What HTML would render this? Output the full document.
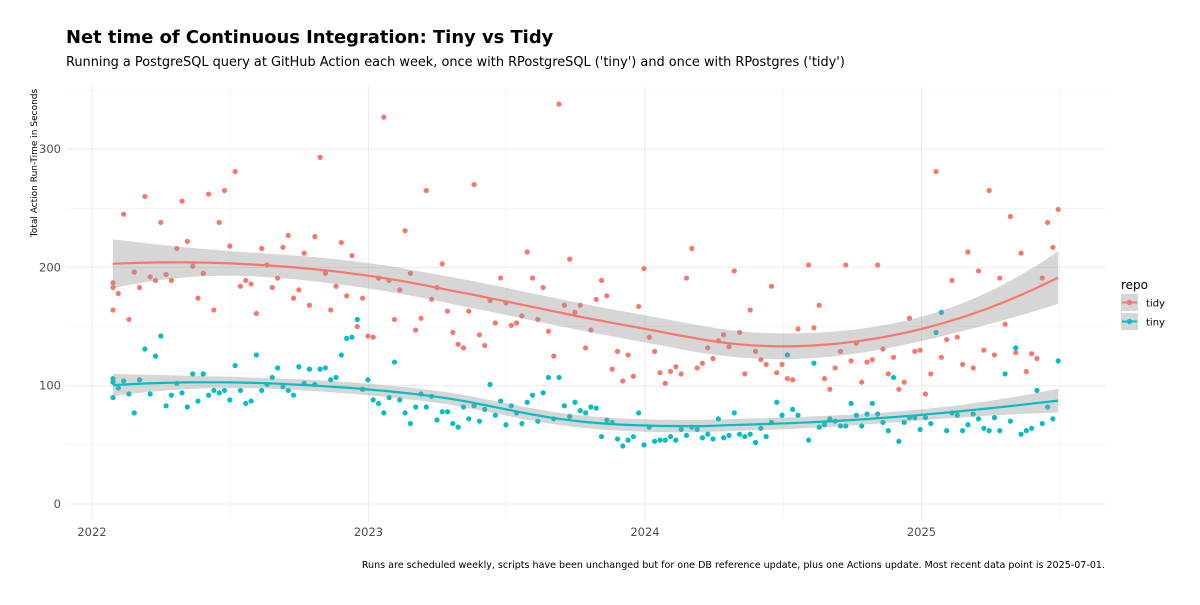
<!DOCTYPE html>
<html><head><meta charset="utf-8">
<style>
body{margin:0;background:#fff;}
svg text{font-family:"DejaVu Sans","Liberation Sans",sans-serif;}
</style></head>
<body>
<svg id="chart" width="1200" height="600" viewBox="0 0 1200 600" xmlns="http://www.w3.org/2000/svg">
<rect width="1200" height="600" fill="#fff"/>
<text x="66" y="43" font-size="17.9" font-weight="bold" fill="#000">Net time of Continuous Integration: Tiny vs Tidy</text>
<text x="66" y="66" font-size="12.9" fill="#000">Running a PostgreSQL query at GitHub Action each week, once with RPostgreSQL ('tiny') and once with RPostgres ('tidy')</text>
<g id="grid"></g>
<g id="points"></g>
<g id="smooth"></g>
<g id="axes"></g>
<text transform="translate(37,163) rotate(-90)" text-anchor="middle" font-size="9" fill="#000">Total Action Run-Time in Seconds</text>
<text x="1105" y="568" text-anchor="end" font-size="9.55" fill="#000">Runs are scheduled weekly, scripts have been unchanged but for one DB reference update, plus one Actions update. Most recent data point is 2025-07-01.</text>
<g id="legend">
<text x="1121" y="289" font-size="12" fill="#000">repo</text>
</g>
</svg>
<script>
const startYear = 2022.076;
const tidyValues = [187,178,245,156,196,183,260,192,189,238,194,189,216,256,222,201,174,195,262,164,238,265,218,281,184,189,186,161,216,202,183,191,217,227,174,181,212,168,226,293,195,164,184,221,176,210,150,174,142,141,191,327,189,156,181,231,195,147,157,265,173,183,203,163,145,135,132,163,270,143,134,172,153,191,170,151,153,159,213,191,156,183,146,125,338,168,207,162,168,132,147,173,189,176,114,129,104,126,108,167,199,141,129,111,102,112,116,110,191,216,115,119,132,123,138,143,133,197,145,110,164,129,122,118,184,111,118,106,105,148,null,202,149,168,106,97,115,129,202,121,136,103,120,122,202,131,110,124,97,103,157,129,130,93,110,281,124,139,189,141,118,213,115,197,130,265,126,191,152,243,128,212,112,127,123,191,238,217,249];
const tinyValues = [106,98,104,93,77,105,131,93,125,142,83,92,102,94,82,110,87,110,92,96,94,96,88,117,96,85,87,126,96,101,107,115,99,96,92,116,102,114,101,114,115,105,107,126,140,141,156,97,105,88,85,77,90,120,88,77,68,82,93,82,91,71,78,78,68,65,82,72,83,70,80,101,75,87,67,83,77,68,86,92,70,94,107,72,107,83,74,86,79,77,82,81,57,71,69,55,49,54,57,77,50,65,53,54,54,57,54,63,58,65,63,56,59,55,72,56,58,77,59,57,59,52,64,57,69,86,75,126,80,75,null,54,119,65,67,72,70,66,66,85,75,66,76,85,76,69,62,107,53,69,73,73,63,73,68,145,162,62,77,75,62,67,76,72,64,62,73,62,110,70,132,59,62,64,96,68,82,72,121];
const extraTidy = [183,164];
const extraTiny = [103,90];
const yTicks = [0,100,200,300];
const yMinor = [50,150,250,350];
const xTicks = [2022,2023,2024,2025];
const xMinor = [2022.5,2023.5,2024.5,2025.5];
const legendKeys = ['tidy','tiny'];

const NS='http://www.w3.org/2000/svg';
const PL=66,PR=1106,PT=87,PB=521;
const xs = yr => 92 + (yr-2022)*276.5;
const ys = v => 504 - v*1.183;
const weekYear = i => startYear + i*5.31/276.5;
function mk(tag,attrs,parent){const e=document.createElementNS(NS,tag);for(const k in attrs)e.setAttribute(k,attrs[k]);parent.appendChild(e);return e;}

const grid=document.getElementById('grid');
yMinor.forEach(v=>{const l=mk('line',{x1:PL,x2:PR,y1:ys(v),y2:ys(v),stroke:'#ebebeb','stroke-width':0.5},grid);

});
xMinor.forEach(v=>{const l=mk('line',{x1:xs(v),x2:xs(v),y1:PT,y2:PB,stroke:'#ebebeb','stroke-width':0.5},grid);

});
yTicks.forEach(v=>{const l=mk('line',{x1:PL,x2:PR,y1:ys(v),y2:ys(v),stroke:'#ebebeb','stroke-width':1},grid);

});
xTicks.forEach(v=>{const l=mk('line',{x1:xs(v),x2:xs(v),y1:PT,y2:PB,stroke:'#ebebeb','stroke-width':1},grid);

});

const axes=document.getElementById('axes');
yTicks.forEach(v=>{const t=mk('text',{x:61,y:ys(v)+4,'text-anchor':'end','font-size':11.5,fill:'#4d4d4d'},axes);t.textContent=v;

});
xTicks.forEach(v=>{const t=mk('text',{x:xs(v),y:536,'text-anchor':'middle','font-size':11.5,fill:'#4d4d4d'},axes);t.textContent=v;

});

const COL={tidy:'#F8766D',tiny:'#00BFC4'};
const pts=document.getElementById('points');
function drawPts(vals,extra,name){
  vals.forEach((v,i)=>{if(v==null)return;const c=mk('circle',{cx:xs(weekYear(i)),cy:ys(v),r:2.6,fill:COL[name]},pts);
  
  });
  extra.forEach(v=>{const c=mk('circle',{cx:xs(weekYear(0)),cy:ys(v),r:2.6,fill:COL[name]},pts);
  
  });
}
drawPts(tidyValues,extraTidy,'tidy');
drawPts(tinyValues,extraTiny,'tiny');

function loess(vals,extra){
  const X=[],Y=[];
  vals.forEach((v,i)=>{if(v!=null){X.push(i);Y.push(v);}});
  extra.forEach(v=>{X.push(0);Y.push(v);});
  const n=X.length,q=Math.floor(0.75*n);
  function weights(x0){
    const d=X.map(x=>Math.abs(x-x0));const s=[...d].sort((a,b)=>a-b);const dq=s[q-1]*1.0001;
    const w=d.map(di=>{const u=di/dq;return u<1?Math.pow(1-u*u*u,3):0;});
    let S=[[0,0,0],[0,0,0],[0,0,0]];
    for(let i=0;i<n;i++){const t=(X[i]-x0)/dq;const r=[1,t,t*t];for(let a=0;a<3;a++)for(let b=0;b<3;b++)S[a][b]+=w[i]*r[a]*r[b];}
    const [a,b,c]=S[0],[d2,e,f]=S[1],[g,h,k]=S[2];
    const det=a*(e*k-f*h)-b*(d2*k-f*g)+c*(d2*h-e*g);
    const inv0=[(e*k-f*h)/det,-(b*k-c*h)/det,(b*f-c*e)/det];
    return X.map((x,i)=>{const t=(x-x0)/dq;return w[i]*(inv0[0]+inv0[1]*t+inv0[2]*t*t);});
  }
  let rss=0,tr=0;
  for(let i=0;i<n;i++){const l=weights(X[i]);let f=0;for(let j=0;j<n;j++)f+=l[j]*Y[j];rss+=(Y[i]-f)**2;tr+=l[i];}
  const sigma=Math.sqrt(rss/(n-tr));
  const out=[];const xmin=Math.min(...X),xmax=Math.max(...X);
  for(let k=0;k<=80;k++){const x0=xmin+(xmax-xmin)*k/80;const l=weights(x0);let f=0,s2=0;for(let j=0;j<n;j++){f+=l[j]*Y[j];s2+=l[j]*l[j];}
    out.push([x0,f,1.97*sigma*Math.sqrt(s2)]);}
  return out;
}
const sm=document.getElementById('smooth');
const fits={tidy:loess(tidyValues,extraTidy),tiny:loess(tinyValues,extraTiny)};
['tidy','tiny'].forEach(name=>{
  const f=fits[name];
  const up=f.map(p=>xs(weekYear(p[0])).toFixed(1)+','+ys(p[1]+p[2]).toFixed(1));
  const lo=f.slice().reverse().map(p=>xs(weekYear(p[0])).toFixed(1)+','+ys(p[1]-p[2]).toFixed(1));
  const rb=mk('polygon',{points:up.concat(lo).join(' '),fill:'#999999','fill-opacity':0.4},sm);
  
  
});
['tidy','tiny'].forEach(name=>{
  const f=fits[name];
  const ln=mk('polyline',{points:f.map(p=>xs(weekYear(p[0])).toFixed(1)+','+ys(p[1]).toFixed(1)).join(' '),fill:'none',stroke:COL[name],'stroke-width':2.2},sm);
  
  
});

const lg=document.getElementById('legend');
legendKeys.forEach((k,i)=>{
  const y0=294+i*19;
  const g=mk('g',{},lg);
  
  
  mk('rect',{x:1121,y:y0,width:17,height:17,fill:'#d6d6d6'},g);
  mk('line',{x1:1122,x2:1137,y1:y0+8.5,y2:y0+8.5,stroke:COL[k],'stroke-width':2},g);
  mk('circle',{cx:1129.5,cy:y0+8.5,r:2.6,fill:COL[k]},g);
  const t=mk('text',{x:1146,y:y0+12.5,'font-size':10,fill:'#000'},g);t.textContent=k;
});
</script>
</body></html>
